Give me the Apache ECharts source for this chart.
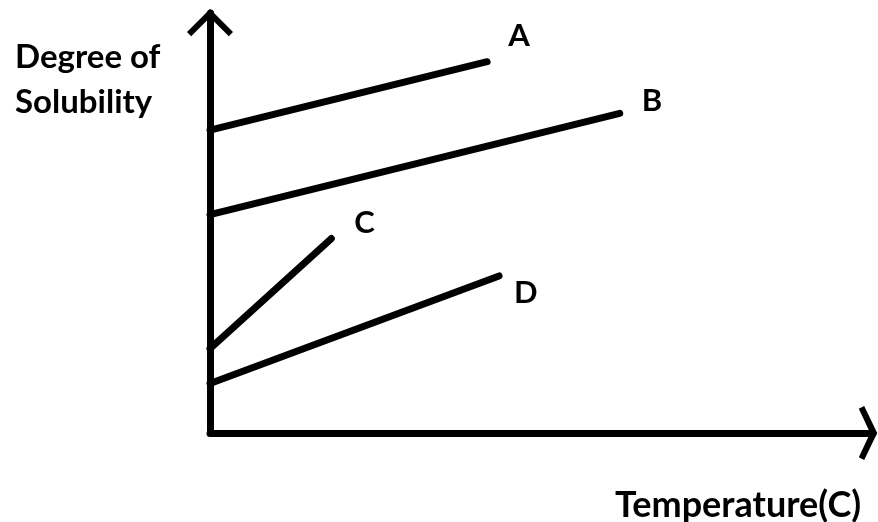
<!DOCTYPE html>
<html>
<head>
<meta charset="utf-8">
<script src="https://cdn.jsdelivr.net/npm/echarts@6/dist/echarts.min.js"></script>
<style>
  html, body { margin: 0; padding: 0; background: #fff; }
  #chart { width: 878px; height: 522px; }
</style>
</head>
<body>
<div id="chart"></div>
<script>
// solubility vs temperature, points are [temperature, solubility] on a 0-100 scale
const seriesNames = ['A', 'B', 'C', 'D'];
const lineA = [[0, 72.1], [41.8, 88.4]];
const lineB = [[0, 52.0], [61.8, 76.1]];
const lineC = [[0, 20.1], [18.3, 46.3]];
const lineD = [[0, 11.8], [43.6, 37.4]];
const yLabel = 'Degree of\nSolubility';
const xLabel = 'Temperature(C)';

const lines = [lineA, lineB, lineC, lineD];
// where each letter sits relative to the end of its line
const labelOffsets = [[21, -26], [22, -12], [23, -16], [15, 17]];

const font = 'Lato, "Open Sans", sans-serif';

// open chevrons, drawn pointing up (ECharts rotates them along the axis)
const yArrow = 'path://M23,0 L46,23 L41.8,27.2 L23,8.5 L4.2,27.2 L0,23 Z';
const xArrow = 'path://M27,0 L54,13 L51.3,18.4 L27,7 L2.7,18.4 L0,13 Z';

const chart = echarts.init(document.getElementById('chart'), null, {
  width: 878,
  height: 522,
  devicePixelRatio: 1
});

const axisStyle = {
  color: '#000',
  width: 7,
  cap: 'round'
};

const option = {
  animation: false,
  backgroundColor: '#fff',
  title: [{
    text: yLabel,
    left: 15,
    top: 35,
    padding: 0,
    textStyle: {
      fontFamily: font,
      fontSize: 33,
      fontWeight: 'bold',
      color: '#000',
      lineHeight: 45
    }
  }, {
    text: xLabel,
    left: 615,
    top: 487,
    padding: 0,
    textStyle: {
      fontFamily: font,
      fontSize: 36,
      fontWeight: 'bold',
      color: '#000'
    }
  }],
  grid: {
    left: 210,
    right: 5,
    top: 13,
    bottom: 89
  },
  xAxis: {
    type: 'value',
    min: 0,
    max: 100,
    axisLine: {
      show: true,
      lineStyle: axisStyle,
      symbol: ['none', xArrow],
      symbolSize: [54, 18.4],
      symbolOffset: [0, -5]
    },
    axisTick: { show: false },
    axisLabel: { show: false },
    splitLine: { show: false }
  },
  yAxis: {
    type: 'value',
    min: 0,
    max: 100,
    axisLine: {
      show: true,
      lineStyle: axisStyle,
      symbol: ['none', yArrow],
      symbolSize: [46, 27.2],
      symbolOffset: [0, -9.6]
    },
    axisTick: { show: false },
    axisLabel: { show: false },
    splitLine: { show: false }
  },
  series: lines.map(function (pts, i) {
    return {
      name: seriesNames[i],
      type: 'line',
      data: pts,
      showSymbol: false,
      symbol: 'none',
      lineStyle: { color: '#000', width: 7, cap: 'round' },
      endLabel: {
        show: true,
        formatter: '{a}',
        distance: 0,
        offset: labelOffsets[i],
        fontFamily: font,
        fontSize: 31,
        fontWeight: 'bold',
        color: '#000'
      }
    };
  })
};

chart.setOption(option);
</script>
</body>
</html>
